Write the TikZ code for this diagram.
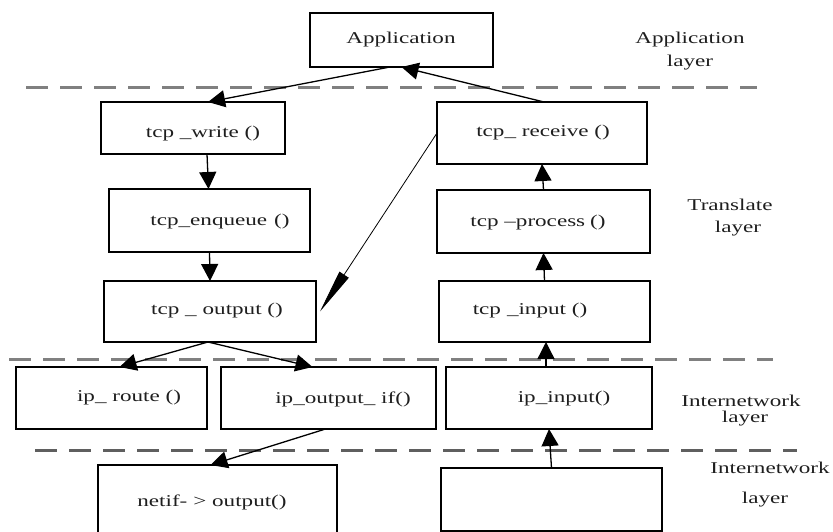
\documentclass[tikz,border=0pt]{standalone}
\usepackage{fontspec}
\setmainfont{Liberation Serif}[FakeStretch=1.4]
\usetikzlibrary{arrows.meta}
\definecolor{txtc}{RGB}{30,30,30}
\definecolor{dashA}{RGB}{128,128,128}
\definecolor{dashB}{RGB}{95,95,95}
\tikzset{
  box/.style={draw=black, line width=1.4pt, inner sep=0pt, outer sep=0pt},
  txt/.style={font=\fontsize{16.5}{18}\selectfont, text=txtc, inner sep=0pt, anchor=center},
  arr/.style={draw=black, line width=1.3pt, -{Triangle[length=17pt,width=17pt]}},
  longarr/.style={draw=black, line width=0.8pt, -{Triangle[length=44pt,width=11pt]}},
  layerline/.style={line width=3pt, dash pattern=on 22pt off 12pt},
}
\begin{document}
\begin{tikzpicture}[x=1pt,y=-1pt]
\useasboundingbox (0,0) rectangle (833,532);
% boxes
\node[box, minimum width=183pt, minimum height=54pt] (app) at (401.5,40) {};
\node[box, minimum width=184pt, minimum height=52pt] (write) at (193,128) {};
\node[box, minimum width=210pt, minimum height=62pt] (receive) at (542,133) {};
\node[box, minimum width=201pt, minimum height=63pt] (enqueue) at (209.5,220.5) {};
\node[box, minimum width=213pt, minimum height=63pt] (process) at (543.5,221.5) {};
\node[box, minimum width=212pt, minimum height=61pt] (output) at (210,311.5) {};
\node[box, minimum width=211pt, minimum height=61pt] (input) at (544.5,311.5) {};
\node[box, minimum width=191pt, minimum height=62pt] (route) at (111.5,398) {};
\node[box, minimum width=215pt, minimum height=62pt] (outif) at (328.5,398) {};
\node[box, minimum width=206pt, minimum height=62pt] (ipin) at (549,398) {};
\node[box, minimum width=239pt, minimum height=72pt] (netif) at (217.5,501) {};
\node[box, minimum width=221pt, minimum height=63pt] (empty) at (551.5,499.5) {};
% box texts
\node[txt] (tapp) at (401,40) {Application};
\node[txt] (twrite) at (203,134) {tcp \_write ()};
\node[txt] (treceive) at (543,133) {tcp\_ receive ()};
\node[txt] (tenqueue) at (220,222) {tcp\_enqueue\hspace{7pt}()};
\node[txt] (tprocess) at (538,223) {tcp –process\hspace{5pt}()};
\node[txt] (toutput) at (217,311) {tcp \_\hspace{6pt}output ()};
\node[txt] (tinput) at (530,311) {tcp\hspace{6pt}\_input ()};
\node[txt] (troute) at (129,398) {ip\_ route ()};
\node[txt] (toutif) at (343,399) {ip\_output\_ if()};
\node[txt] (tipin) at (564,399) {ip\_input()};
\node[txt] (tnetif) at (212,502) {netif-\hspace{6pt}> output()};
% layer labels
\node[txt] (l1a) at (690,40) {Application};
\node[txt] (l1b) at (690,63) {layer};
\node[txt] (l2a) at (730,205) {Translate};
\node[txt] (l2b) at (738,229) {layer};
\node[txt] (l3a) at (741,401) {Internetwork};
\node[txt] (l3b) at (745,419) {layer};
\node[txt] (l4a) at (770,468) {Internetwork};
\node[txt] (l4b) at (765,500) {layer};
% dashed layer lines
\coordinate (d1a) at (26,88);  \coordinate (d1b) at (757,88);
\coordinate (d2a) at (9,359);  \coordinate (d2b) at (773,359);
\coordinate (d3a) at (35,450); \coordinate (d3b) at (797,450);
\draw[layerline, dashA] (d1a) -- (d1b);
\draw[layerline, dashA] (d2a) -- (d2b);
\draw[layerline, dashB] (d3a) -- (d3b);
% connectors
\draw[arr] ([xshift=-11.5pt]app.south) -- ([xshift=15pt]write.north);
\draw[arr] ([xshift=2pt]receive.north) -- (app.south);
\draw[arr] ([xshift=14pt]write.south) -- ([xshift=-1pt]enqueue.north);
\draw[arr] (enqueue.south) -- (output.north);
\draw[longarr] (receive.west) -- ([xshift=4pt]output.east);
\draw[arr] ([xshift=-2pt]output.south) -- ([xshift=8pt]route.north);
\draw[arr] ([xshift=-2pt]output.south) -- ([xshift=-16pt]outif.north);
\draw[arr] ([xshift=-3pt]outif.south) -- ([xshift=-7pt]netif.north);
\draw[arr] (empty.north) -- (ipin.south);
\draw[arr] ([xshift=-3pt]ipin.north) -- ([xshift=1.5pt]input.south);
\draw[arr] (input.north) -- (process.south);
\draw[arr] (process.north) -- (receive.south);
\end{tikzpicture}
\end{document}
